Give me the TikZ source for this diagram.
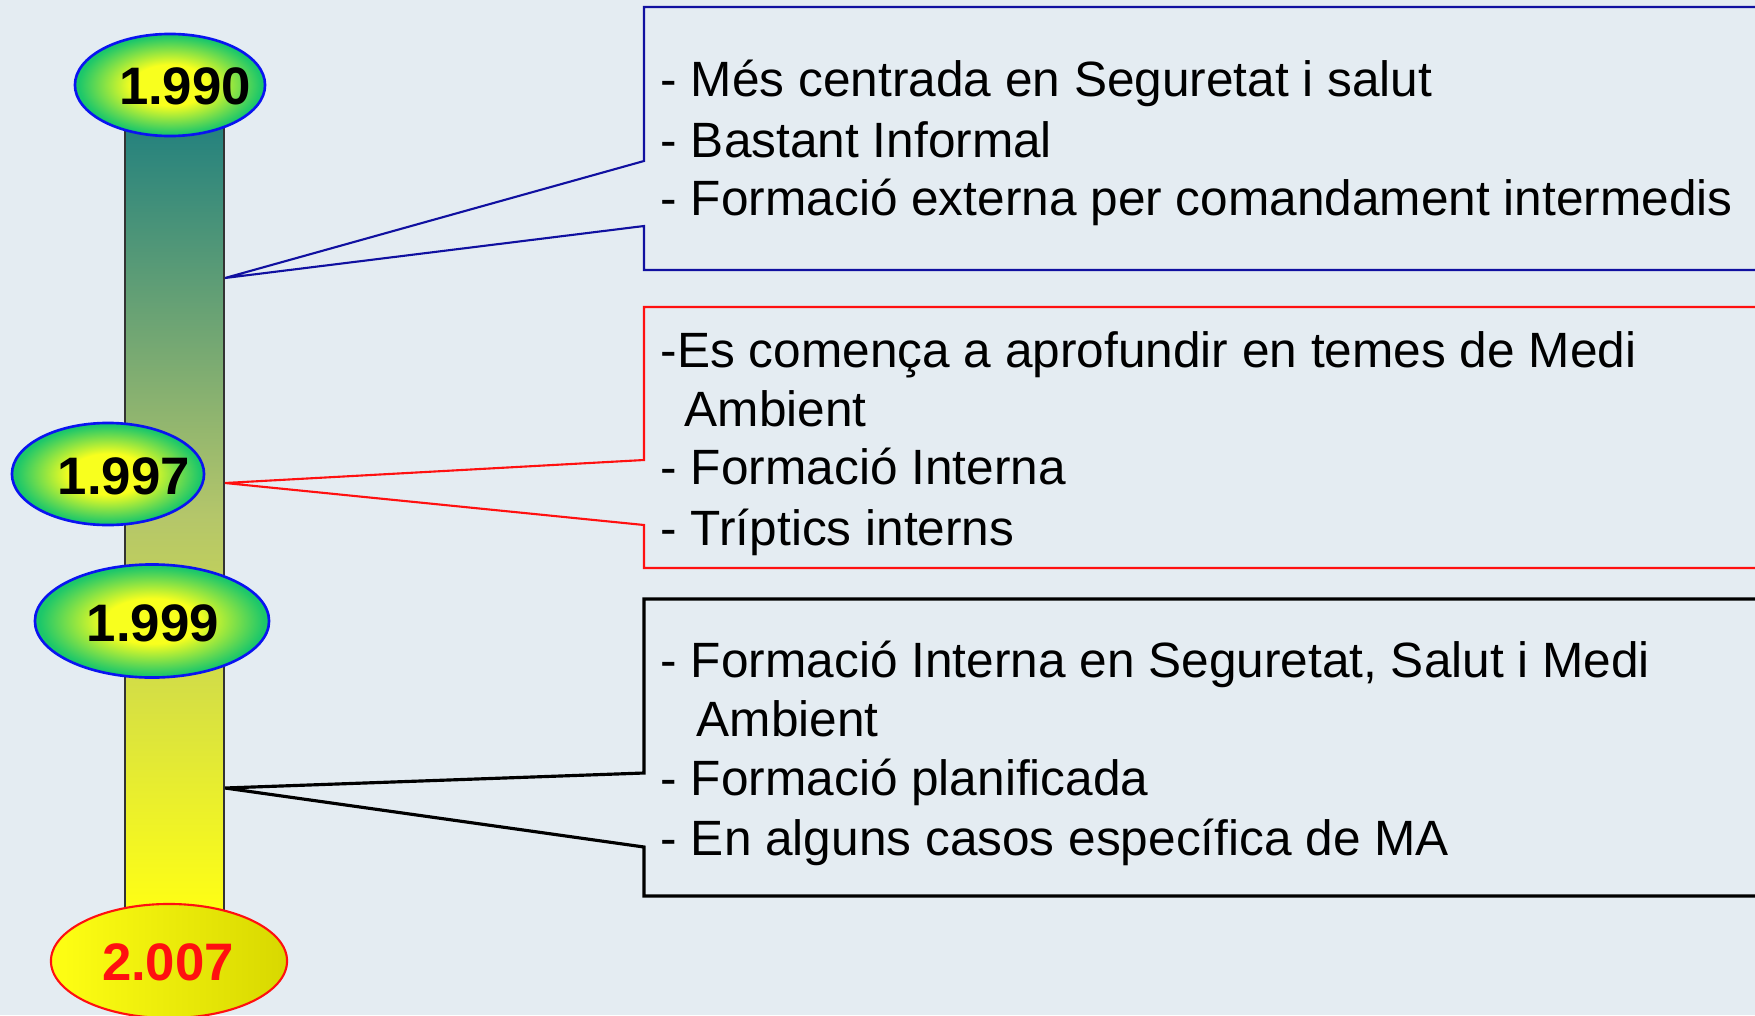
\documentclass[tikz,border=0pt]{standalone}
\usepackage{fontspec}
\setmainfont{Liberation Sans}
\usetikzlibrary{shapes.geometric, calc}
\definecolor{bgGrey}{HTML}{E4ECF2}
\definecolor{barTeal}{HTML}{21807E}
\definecolor{barOlive}{HTML}{B4C66A}
\definecolor{barYellow}{HTML}{FFFF14}
\definecolor{ellGreen}{HTML}{1CC76A}
\definecolor{ellYellow}{HTML}{F8FF1E}
\definecolor{ellBlue}{HTML}{0A14F0}
\definecolor{ellOlive}{HTML}{D8D800}
\definecolor{callBlue}{HTML}{1010A0}
\definecolor{callRed}{HTML}{FF1010}
\pgfdeclareradialshading{yearglow}{\pgfpoint{0bp}{0bp}}{%
  color(0bp)=(ellYellow); color(10bp)=(ellYellow); color(24bp)=(ellGreen);
  color(50bp)=(ellGreen)}
\tikzset{
  yearell/.style  = {ellipse, draw=ellBlue, line width=0.75pt, inner sep=0pt,
                     shading=yearglow},
  yeartxt/.style  = {font=\fontsize{15pt}{17pt}\selectfont\bfseries, inner sep=0pt},
  callout/.style  = {line width=0.6pt},
  item/.style     = {anchor=base west, inner sep=0pt,
                     font=\fontsize{14.1pt}{16.9pt}\selectfont},
}
\begin{document}
\begin{tikzpicture}[x=0.01cm, y=-0.01cm]
\useasboundingbox (0,0) rectangle (1755,1015);
\fill[bgGrey] (0,0) rectangle (1755,1015);

% ---- time bar -------------------------------------------------------------
\shade[draw=black!80, line width=0.4pt, top color=barTeal, bottom color=barYellow,
       middle color=barOlive] (125,118) rectangle (224,912);

% ---- years ----------------------------------------------------------------
\node[yearell, minimum width=1.90cm, minimum height=1.02cm] (e90) at (170,85) {};
\node[yeartxt] (t90) at (185,86) {1.990};
\node[yearell, minimum width=1.92cm, minimum height=1.02cm] (e97) at (108,474) {};
\node[yeartxt] (t97) at (124,476) {1.997};
\node[yearell, minimum width=2.34cm, minimum height=1.13cm] (e99) at (152,621) {};
\node[yeartxt] (t99) at (153,623) {1.999};
\node[ellipse, draw=callRed, line width=0.6pt, minimum width=2.36cm, minimum height=1.14cm,
      left color=barYellow, right color=ellOlive] (e07) at (169,961) {};
\node[yeartxt, callRed] (t07) at (168,962) {2.007};

% ---- callout 1.990 --------------------------------------------------------
\coordinate (tip90) at (225,278);
\draw[callout, callBlue] (tip90) -- (644,161) |- (1760,7) |- (644,270) -- (644,226) -- cycle;
\node[item] (a1) at (660,97)  {- Més centrada en Seguretat i salut};
\node[item] (a2) at (660,157) {- Bastant Informal};
\node[item] (a3) at (660,215) {- Formació externa per comandament intermedis};

% ---- callout 1.997 --------------------------------------------------------
\coordinate (tip97) at (225,483);
\draw[callout, callRed] (tip97) -- (644,460) |- (1760,307) |- (644,568) -- (644,525) -- cycle;
\node[item] (b1) at (660,367) {-Es comença a aprofundir en temes de Medi};
\node[item] (b2) at (684,426) {Ambient};
\node[item] (b3) at (660,484) {- Formació Interna};
\node[item] (b4) at (660,545) {- Tríptics interns};

% ---- callout 1.999 --------------------------------------------------------
\coordinate (tip99) at (225,788);
\draw[callout, black, line width=0.9pt] (tip99) -- (644,773) |- (1760,599) |- (644,896) -- (644,847) -- cycle;
\node[item] (c1) at (660,677) {- Formació Interna en Seguretat, Salut i Medi};
\node[item] (c2) at (696,736) {Ambient};
\node[item] (c3) at (660,795) {- Formació planificada};
\node[item] (c4) at (660,855) {- En alguns casos específica de MA};
\end{tikzpicture}
\end{document}
